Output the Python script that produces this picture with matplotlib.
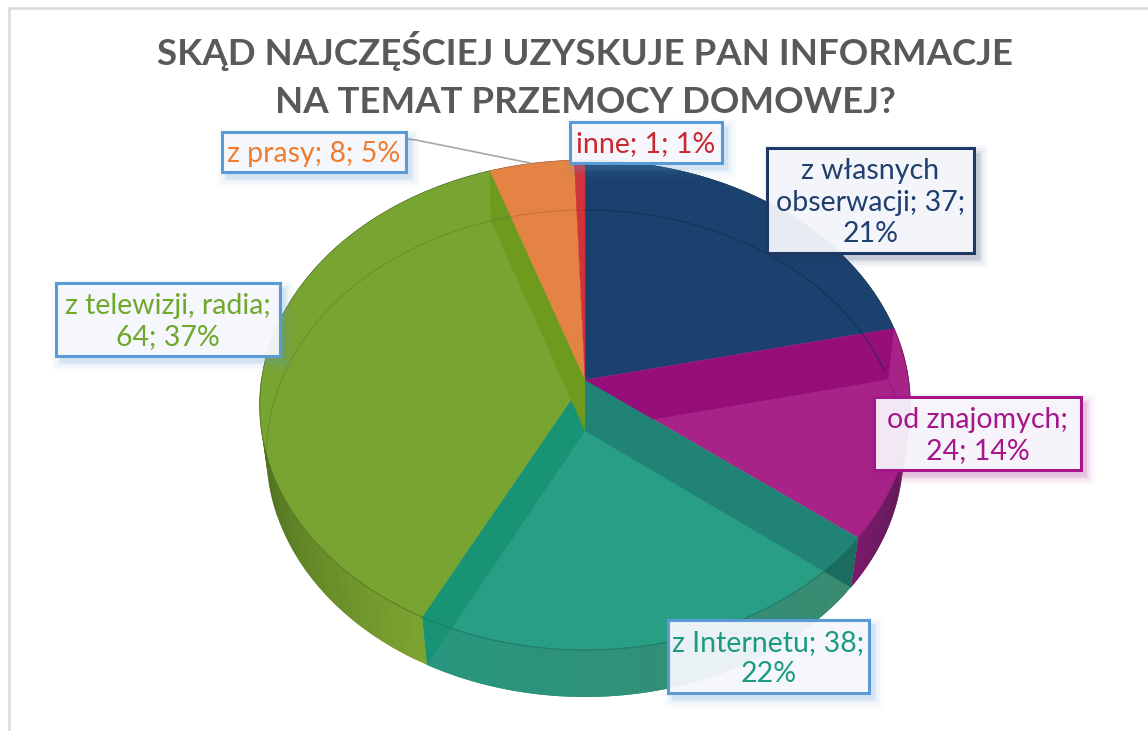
import numpy as np
import matplotlib
matplotlib.use("Agg")
import matplotlib.pyplot as plt
from matplotlib.patches import Rectangle
from matplotlib.colors import to_rgb

title = "SKĄD NAJCZĘŚCIEJ UZYSKUJE PAN INFORMACJE\nNA TEMAT PRZEMOCY DOMOWEJ?"

categories = ["z własnych obserwacji", "od znajomych", "z Internetu",
              "z telewizji, radia", "z prasy", "inne"]
values = [37, 24, 38, 64, 8, 1]
percents = [21, 14, 22, 37, 5, 1]

# kolory kawalkow i tekstu
colors = ["#1B426F", "#A82387", "#289E84", "#78A431", "#E58345", "#D0343A"]
text_colors = ["#1F3F6E", "#A6168B", "#1B9A80", "#6FA82A", "#ED7D31", "#C8282E"]
edge_colors = ["#1F3864", "#A6168B", "#5B9BD5", "#5B9BD5", "#5B9BD5", "#5B9BD5"]
band_colors = ["#960E7A", "#218375", "#189373", "#6E9A1E"]
wall_from = ["#1B426F", "#3A1A3A", "#3A8A70", "#7CA330", "#E58345", "#D0343A"]
wall_to = ["#1B426F", "#7A1A6B", "#27967E", "#3F5E1C", "#E58345", "#D0343A"]
wall_span = [1, 1, 1, 0.5, 1, 1]

label_texts = ["z własnych\nobserwacji; 37;\n21%", "od znajomych;\n24; 14%", "z Internetu; 38;\n22%",
               "z telewizji, radia;\n64; 37%", "z prasy; 8; 5%", "inne; 1; 1%"]
# ramki etykiet: lewo, gora, prawo, dol (piksele)
label_boxes = [(767, 148, 974, 253), (874, 397, 1081, 470), (668, 620, 869, 693),
               (56, 283, 280, 356), (222, 132, 406, 172), (570, 122, 722, 163)]

fig = plt.figure(figsize=(11.48, 7.31), dpi=100)
ax = fig.add_axes([0, 0, 1, 1])
ax.set_xlim(0, 1148)
ax.set_ylim(731, 0)
ax.axis("off")

# perspektywa: gorna i dolna powierzchnia kola
CX = 585
TOP = (380, 323.6, 242.4, 0.102)
BOT = (431, 317.0, 241.4, 0.0924)


def project(theta, surf):
    cy, a, b, k = surf
    u, v = np.sin(theta), np.cos(theta)
    d = 1 + k * v
    return CX + a * u / d, cy - b * v / d


def arc(t0, t1, surf, n=120):
    return project(np.linspace(t0, t1, n), surf)


edges = np.cumsum([0] + values) / sum(values) * 2 * np.pi

# boczne sciany
for i in range(len(values)):
    ts = np.linspace(edges[i], edges[i + 1], 60)
    c0, c1 = np.array(to_rgb(wall_from[i])), np.array(to_rgb(wall_to[i]))
    for j in range(len(ts) - 1):
        # nakladanie pasow, zeby nie bylo szwow
        x1, y1 = project(ts[j:j + 3], TOP)
        x2, y2 = project(ts[j:j + 3], BOT)
        f = min(1, j / (len(ts) - 2) / wall_span[i])
        ax.fill(np.r_[x1, x2[::-1]], np.r_[y1, y2[::-1]], color=c0 + (c1 - c0) * f, lw=0, zorder=1)

# gorna powierzchnia
for i in range(len(values)):
    x, y = arc(edges[i], edges[i + 1], TOP)
    ax.fill(np.r_[CX, x], np.r_[TOP[0], y], color=colors[i], lw=0.3, zorder=2)
    ax.plot(x, y, color="#333333", lw=0.5, alpha=0.35, zorder=2.2)

# sciany promieniowe widoczne przez przezroczystosc
for i in range(4):
    xt, yt = project(edges[i + 1], TOP)
    xb, yb = project(edges[i + 1], BOT)
    ax.fill([CX, xt, xb, CX], [TOP[0], yt, yb, BOT[0]], color=band_colors[i], lw=0, zorder=3)

# ciemniejszy naroznik przy Internecie
xa, ya = arc(edges[2], edges[3], TOP)
xc, yc = arc(edges[2], edges[3], BOT)
wall_clip = ax.fill(np.r_[xa, xc[::-1]], np.r_[ya, yc[::-1]], color="none", lw=0, zorder=3)[0]
xt, yt = project(edges[2], TOP)
xb, yb = project(edges[2], BOT)
corner = ax.fill([CX, xt, xb, CX], [TOP[0], yt, yb, BOT[0]], color="#000000", alpha=0.18, lw=0, zorder=3.1)[0]
corner.set_clip_path(wall_clip)

# cienkie luki drugiego okregu
for t0, t1, surf, col, al in [(edges[4], 2 * np.pi, BOT, "#333333", 0.2),
                              (0, edges[1] - 0.03, BOT, "#0F2A4F", 0.7),
                              (edges[1], edges[1] + 0.25, BOT, "#7A1A6B", 0.7),
                              (edges[3] + 0.75, edges[4], BOT, "#55771F", 0.45),
                              (edges[1], edges[2], TOP, "#7A1A6B", 0.7),
                              (edges[2], edges[3], TOP, "#157A66", 0.7),
                              (edges[3], edges[3] + 1.1, TOP, "#55771F", 0.6)]:
    x, y = arc(t0, t1, surf)
    ax.plot(x, y, color=col, lw=0.7, alpha=al, zorder=3.5)

# linia odniesienia do "z prasy"
ax.plot([406, 416, 530], [139, 140, 163], color="#A6A6A6", lw=1.2, zorder=3.6)

# etykiety
for i in range(len(values)):
    x0, y0, x1, y1 = label_boxes[i]
    for grow, alpha in [(9, 0.03), (6, 0.05), (3, 0.08), (1, 0.12)]:
        ax.add_patch(Rectangle((x0 + 5 - grow, y0 + 6 - grow), x1 - x0 + 2 * grow, y1 - y0 + 2 * grow,
                               fc=edge_colors[i], ec="none", alpha=alpha, zorder=4))
    ax.add_patch(Rectangle((x0, y0), x1 - x0, y1 - y0, fc="#F8F9FD", ec="none", alpha=0.93, zorder=5))
    ax.add_patch(Rectangle((x0, y0), x1 - x0, y1 - y0, fc="none", ec=edge_colors[i], lw=2.2, zorder=5.5))
    ax.text((x0 + x1) / 2, (y0 + y1) / 2 + 2, label_texts[i], color=text_colors[i], family="Lato",
            fontsize=20.5, ha="center", va="center", linespacing=1.25, zorder=6)

ax.text(585, 75, title, color="#595959", family="Lato", weight="bold", fontsize=26.4,
        ha="center", va="center", linespacing=1.55, zorder=6)

# ramka wykresu
ax.plot([9, 9], [731, 8], color="#D9D9D9", lw=1.8, zorder=0)
ax.plot([9, 1148], [8, 8], color="#D9D9D9", lw=1.8, zorder=0)

fig.savefig("out.png", dpi=100)
